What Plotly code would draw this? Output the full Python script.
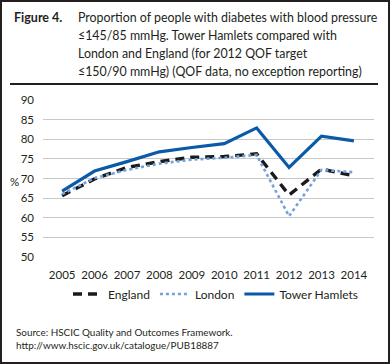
import plotly.graph_objects as go

years = ["2005", "2006", "2007", "2008", "2009", "2010", "2011", "2012", "2013", "2014"]
england = [65.6, 69.9, 72.8, 74.3, 75.4, 75.6, 76.3, 65.8, 72.4, 70.7]
london = [66.0, 70.1, 72.2, 73.8, 74.8, 75.3, 76.0, 60.4, 72.2, 71.6]
tower_hamlets = [66.8, 71.9, 74.3, 76.8, 77.9, 78.9, 82.9, 72.8, 80.8, 79.6]
y_ticks = [50, 55, 60, 65, 70, 75, 80, 85, 90]

FONT = "Lato"
TXT = "#231f20"

# pixel -> paper helpers (plot area: x 43..374, y 100..257)
L, R, T, B = 43, 374, 100, 257
def px(x):
    return (x - L) / (R - L)
def py(y):
    return (B - y) / (B - T)

fig = go.Figure()
fig.add_trace(go.Scatter(x=years, y=england, name="England", mode="lines",
                         line=dict(color="#1a1a1a", width=3.4, dash="9px,6px")))
fig.add_trace(go.Scatter(x=years, y=london, name="London", mode="lines",
                         line=dict(color="#72a2dc", width=2.6, dash="dot")))
fig.add_trace(go.Scatter(x=years, y=tower_hamlets, name="Tower Hamlets", mode="lines",
                         line=dict(color="#0b5aa7", width=3.2)))

fig.update_layout(
    width=390, height=364,
    margin=dict(l=L, r=390 - R, t=T, b=364 - B, autoexpand=False),
    paper_bgcolor="white", plot_bgcolor="white",
    font=dict(family=FONT, size=11.5, color=TXT),
    xaxis=dict(type="category", range=[-0.59, 9.62], showgrid=False, showline=False,
               zeroline=False, ticks="", tickfont=dict(size=11.5, color=TXT),
               ticklabelstandoff=9, automargin=False),
    yaxis=dict(range=[50, 90], tickvals=y_ticks, showgrid=True, gridcolor="#c8c8c8",
               gridwidth=1, zeroline=False, showline=False, ticks="",
               tickfont=dict(size=11.5, color=TXT), ticklabelstandoff=8, automargin=False),
    showlegend=True,
    legend=dict(orientation="h", x=px(68), y=py(294), xanchor="left", yanchor="middle",
                font=dict(size=12, color=TXT), bgcolor="rgba(0,0,0,0)",
                itemwidth=30, tracegroupgap=0),
)

shapes = [
    dict(type="rect", xref="paper", yref="paper", x0=px(1), x1=px(389), y0=py(1), y1=py(363),
         line=dict(color="#231f20", width=2), layer="above"),
    dict(type="line", xref="paper", yref="paper", x0=px(10), x1=px(378), y0=py(84), y1=py(84),
         line=dict(color="#231f20", width=2)),
]
fig.update_layout(shapes=shapes)

title_lines = [
    "Proportion of people with diabetes with blood pressure",
    "≤145/85 mmHg. Tower Hamlets compared with",
    "London and England (for 2012 QOF target",
    "≤150/90 mmHg) (QOF data, no exception reporting)",
]
ann = [dict(text="<b>Figure 4.</b>", x=px(12), y=py(17.5), xref="paper", yref="paper",
            xanchor="left", yanchor="middle", showarrow=False,
            font=dict(size=12.5, color=TXT, family=FONT))]
for i, t in enumerate(title_lines):
    ann.append(dict(text=t, x=px(76), y=py(17.5 + i * 18), xref="paper", yref="paper",
                    xanchor="left", yanchor="middle", showarrow=False,
                    font=dict(size=12.4, color=TXT, family=FONT)))
ann.append(dict(text="%", x=px(8), y=py(181), xref="paper", yref="paper",
                xanchor="left", yanchor="middle", showarrow=False,
                font=dict(size=11.5, color=TXT)))
for i, t in enumerate(["Source: HSCIC Quality and Outcomes Framework.",
                       "http://www.hscic.gov.uk/catalogue/PUB18887"]):
    ann.append(dict(text=t, x=px(14), y=py(332 + i * 13), xref="paper", yref="paper",
                    xanchor="left", yanchor="middle", showarrow=False,
                    font=dict(size=9.9, color=TXT)))
fig.update_layout(annotations=ann)

fig.write_html("out.html", config={"displayModeBar": False},
               post_script="document.body.style.margin='0';document.body.style.overflow='hidden';")
